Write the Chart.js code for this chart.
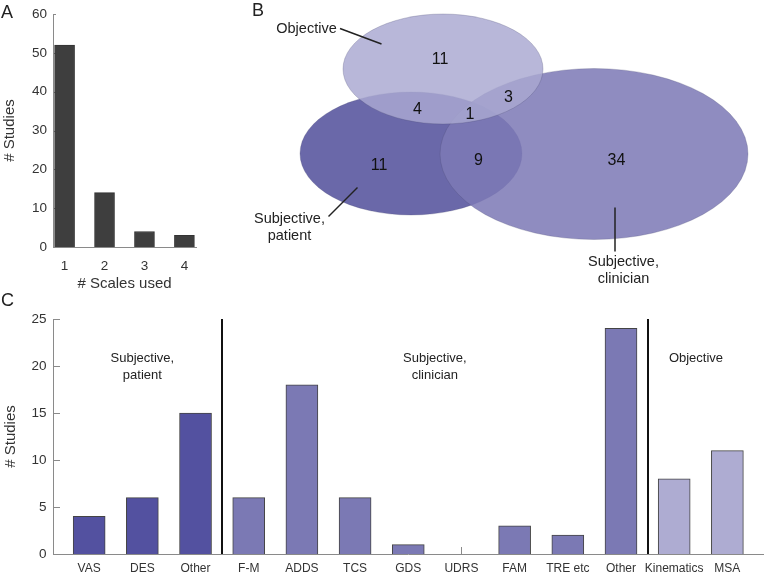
<!DOCTYPE html>
<html>
<head>
<meta charset="utf-8">
<script src="https://cdn.jsdelivr.net/npm/chart.js@4.4.1/dist/chart.umd.min.js"></script>
<style>
  body { margin: 0; background: #fff; width: 766px; height: 573px; position: relative; overflow: hidden; font-family: "Liberation Sans", Arial, sans-serif; }
  canvas { position: absolute; display: block; }
  .letter { position: absolute; font-size: 18px; line-height: 18px; color: #222; }
</style>
</head>
<body>
<canvas id="chartA" width="210" height="300" style="left:0;top:0"></canvas>
<canvas id="chartB" width="536" height="295" style="left:230px;top:0"></canvas>
<canvas id="chartC" width="766" height="283" style="left:0;top:290px"></canvas>
<div class="letter" style="left:1px;top:3px">A</div>
<div class="letter" style="left:252px;top:1px">B</div>
<div class="letter" style="left:1px;top:291px">C</div>
<script>
// panel A: number of scales used per study
const scalesUsed = [1, 2, 3, 4];
const studiesByScales = [52, 14, 4, 3];

// panel B: venn of scale types (layout in venn units)
const vennSets = ['Objective', 'Subjective, patient', 'Subjective, clinician'];
const vennCx = [4.26, 3.62, 7.28];
const vennCy = [4.52, 2.83, 2.82];
const vennRx = [2.0, 2.22, 3.08];
const vennRy = [1.1, 1.23, 1.71];
const vennCounts = [11, 4, 1, 3, 11, 9, 34];
const vennCountX = [4.2, 3.75, 4.8, 5.57, 2.98, 4.97, 7.73];
const vennCountY = [4.7, 3.7, 3.6, 3.95, 2.59, 2.69, 2.68];
const vennLabelX = [1.53, 1.19, 7.87];
const vennLabelY = [5.33, 1.53, 0.67];
const leaderX1 = [2.2, 1.97, 7.7];
const leaderY1 = [5.33, 1.57, 1.75];
const leaderX2 = [3.03, 2.55, 7.7];
const leaderY2 = [5.02, 2.15, 0.87];

// panel C: studies per scale
const scaleNames = ['VAS', 'DES', 'Other', 'F-M', 'ADDS', 'TCS', 'GDS', 'UDRS', 'FAM', 'TRE etc', 'Other', 'Kinematics', 'MSA'];
const scaleStudies = [4, 6, 15, 6, 18, 6, 1, 0, 3, 2, 24, 8, 11];
const scaleGroup = [0, 0, 0, 1, 1, 1, 1, 1, 1, 1, 1, 2, 2];
const groupNames = [['Subjective,', 'patient'], ['Subjective,', 'clinician'], ['Objective']];
const groupCenter = [2, 7.5, 12.41];
const groupDividers = [3.5, 11.5];

const groupColors = ['#5351a0', '#7b79b4', '#aeacd2'];

Chart.defaults.font.family = '"Liberation Sans", Arial, sans-serif';
Chart.defaults.color = '#333';

const inwardTicks = {
  id: 'inwardTicks',
  beforeDatasetsDraw(chart, args, opts) {
    const {ctx, chartArea, scales} = chart;
    ctx.save();
    ctx.strokeStyle = '#8a8a8a';
    ctx.lineWidth = 1;
    ctx.beginPath();
    scales.y.ticks.forEach(t => {
      const py = Math.round(scales.y.getPixelForValue(t.value)) + 0.5;
      ctx.moveTo(chartArea.left, py);
      ctx.lineTo(chartArea.left + opts.len, py);
    });
    scales.x.ticks.forEach(t => {
      const px = Math.round(scales.x.getPixelForValue(t.value)) + 0.5;
      ctx.moveTo(px, chartArea.bottom);
      ctx.lineTo(px, chartArea.bottom - opts.len);
    });
    ctx.stroke();
    ctx.restore();
  }
};

function axisX(min, max, ticksAt, fontSize, pad, height, labelOf, extra) {
  return Object.assign({
    type: 'linear', min: min, max: max, offset: false,
    grid: { display: false, drawTicks: false, offset: false },
    border: { color: '#8a8a8a', width: 1 },
    afterBuildTicks: s => { s.ticks = ticksAt.map(v => ({ value: v })); },
    afterFit: s => { s.height = height; },
    ticks: { font: { size: fontSize }, padding: pad, maxRotation: 0, autoSkip: false, callback: labelOf }
  }, extra);
}

// ---- A ----
new Chart(document.getElementById('chartA'), {
  type: 'bar',
  data: {
    datasets: [{
      data: scalesUsed.map((v, i) => ({ x: v, y: studiesByScales[i] })),
      backgroundColor: '#3e3e3e',
      borderColor: '#333',
      borderWidth: 1,
      barThickness: 20
    }]
  },
  options: {
    responsive: false,
    animation: false,
    layout: { padding: { top: 14, right: 14, left: 0, bottom: 0 } },
    plugins: { legend: { display: false }, tooltip: { enabled: false }, inwardTicks: { len: 3 } },
    scales: {
      x: axisX(0.71, 4.29, scalesUsed, 13.5, 11, 53, v => String(v), {
        title: { display: true, text: '# Scales used', font: { size: 15 }, padding: { top: 0, bottom: 7 } }
      }),
      y: {
        min: 0, max: 60,
        grid: { display: false, drawTicks: false },
        border: { color: '#8a8a8a', width: 1 },
        afterFit: s => { s.width = 53; },
        ticks: { stepSize: 10, font: { size: 13.5 }, padding: 6 },
        title: { display: true, text: '# Studies', font: { size: 15 }, padding: { top: 0.5, bottom: 0 } }
      }
    }
  },
  plugins: [inwardTicks]
});

// ---- B ----
const vennDraw = {
  id: 'vennDraw',
  beforeDatasetsDraw(chart) {
    const {ctx, scales: {x, y}} = chart;
    const fills = ['rgba(169,168,209,0.83)', 'rgb(106,104,169)', 'rgba(125,121,182,0.86)'];
    ctx.save();
    [1, 2, 0].forEach(i => {
      const cx = x.getPixelForValue(vennCx[i]);
      const cy = y.getPixelForValue(vennCy[i]);
      const rx = x.getPixelForValue(vennCx[i] + vennRx[i]) - cx;
      const ry = cy - y.getPixelForValue(vennCy[i] + vennRy[i]);
      ctx.beginPath();
      ctx.ellipse(cx, cy, rx, ry, 0, 0, Math.PI * 2);
      ctx.fillStyle = fills[i];
      ctx.fill();
      ctx.strokeStyle = 'rgba(70,70,110,0.25)';
      ctx.lineWidth = 1;
      ctx.stroke();
    });
    ctx.restore();
  },
  afterDatasetsDraw(chart) {
    const {ctx, scales: {x, y}} = chart;
    ctx.save();
    ctx.fillStyle = '#111';
    ctx.textAlign = 'center';
    ctx.textBaseline = 'middle';
    ctx.font = '16px "Liberation Sans", Arial, sans-serif';
    chart.getDatasetMeta(0).data.forEach((pt, i) => {
      ctx.fillText(String(vennCounts[i]), pt.x, pt.y);
    });
    ctx.strokeStyle = '#222';
    ctx.lineWidth = 1.5;
    vennSets.forEach((name, i) => {
      ctx.beginPath();
      ctx.moveTo(x.getPixelForValue(leaderX1[i]), y.getPixelForValue(leaderY1[i]));
      ctx.lineTo(x.getPixelForValue(leaderX2[i]), y.getPixelForValue(leaderY2[i]));
      ctx.stroke();
      const lines = name.includes(',') ? [name.split(', ')[0] + ',', name.split(', ')[1]] : [name];
      ctx.fillStyle = '#222';
      ctx.font = '14.5px "Liberation Sans", Arial, sans-serif';
      lines.forEach((ln, k) => {
        ctx.fillText(ln, x.getPixelForValue(vennLabelX[i]), y.getPixelForValue(vennLabelY[i]) + k * 17.7);
      });
    });
    ctx.restore();
  }
};

new Chart(document.getElementById('chartB'), {
  type: 'scatter',
  data: {
    datasets: [{
      data: vennCounts.map((c, i) => ({ x: vennCountX[i], y: vennCountY[i] })),
      pointRadius: 0
    }]
  },
  options: {
    responsive: false,
    animation: false,
    layout: { padding: 0 },
    plugins: { legend: { display: false }, tooltip: { enabled: false } },
    scales: {
      x: { type: 'linear', min: 0, max: 10.72, display: false },
      y: { type: 'linear', min: 0, max: 5.9, display: false }
    }
  },
  plugins: [vennDraw]
});

// ---- C ----
const positions = scaleNames.map((n, i) => i + 1);

const groupMarks = {
  id: 'groupMarks',
  afterDatasetsDraw(chart) {
    const {ctx, scales: {x, y}} = chart;
    ctx.save();
    ctx.strokeStyle = '#111';
    ctx.lineWidth = 2;
    groupDividers.forEach(d => {
      const px = Math.round(x.getPixelForValue(d));
      ctx.beginPath();
      ctx.moveTo(px, y.getPixelForValue(25));
      ctx.lineTo(px, y.getPixelForValue(0));
      ctx.stroke();
    });
    ctx.fillStyle = '#222';
    ctx.font = '13px "Liberation Sans", Arial, sans-serif';
    ctx.textAlign = 'center';
    ctx.textBaseline = 'middle';
    groupNames.forEach((lines, g) => {
      lines.forEach((ln, k) => {
        ctx.fillText(ln, x.getPixelForValue(groupCenter[g]), y.getPixelForValue(20.85) + k * 17.7);
      });
    });
    ctx.restore();
  }
};

new Chart(document.getElementById('chartC'), {
  type: 'bar',
  data: {
    datasets: [{
      data: positions.map((p, i) => ({ x: p, y: scaleStudies[i] })),
      backgroundColor: scaleGroup.map(g => groupColors[g]),
      borderColor: '#444',
      borderWidth: 1,
      barThickness: 32
    }]
  },
  options: {
    responsive: false,
    animation: false,
    layout: { padding: { top: 29, right: 3, left: 0, bottom: 0 } },
    plugins: { legend: { display: false }, tooltip: { enabled: false }, inwardTicks: { len: 7 } },
    scales: {
      x: axisX(0.32, 13.67, positions, 12, 7, 19, v => scaleNames[v - 1], {}),
      y: {
        min: 0, max: 25,
        grid: { display: false, drawTicks: false },
        border: { color: '#8a8a8a', width: 1 },
        afterFit: s => { s.width = 53; },
        ticks: { stepSize: 5, font: { size: 13.5 }, padding: 6.5 },
        title: { display: true, text: '# Studies', font: { size: 15 }, padding: { top: 2, bottom: 0 } }
      }
    }
  },
  plugins: [inwardTicks, groupMarks]
});
</script>
</body>
</html>
